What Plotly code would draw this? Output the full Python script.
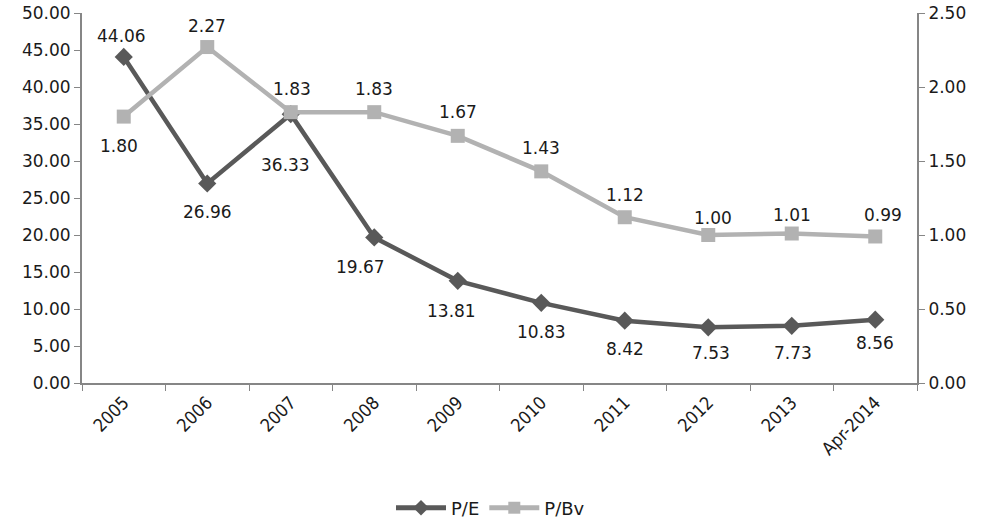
import plotly.graph_objects as go

years = ['2005', '2006', '2007', '2008', '2009', '2010', '2011', '2012', '2013', 'Apr-2014']
pe = [44.06, 26.96, 36.33, 19.67, 13.81, 10.83, 8.42, 7.53, 7.73, 8.56]
pbv = [1.80, 2.27, 1.83, 1.83, 1.67, 1.43, 1.12, 1.00, 1.01, 0.99]

# label nudges in pixels (dx, dy) - dy positive = down, as Excel placed them
pe_nudge = [(-2, -21), (0, 28), (-5, 51), (-14, 30), (-6, 30),
            (0, 29), (0, 28), (3, 26), (1, 27), (0, 23)]
pbv_nudge = [(-5, 29), (0, -21), (1, -23), (0, -23), (0, -24),
             (0, -23), (0, -22), (5, -17), (0, -19), (8, -21)]

font_name = 'DejaVu Sans'
narrow_font = 'DejaVu Sans Condensed, DejaVu Sans'
axis_grey = '#868686'
pe_color = '#595959'
pbv_color = '#b2b2b2'

fig = go.Figure()

fig.add_trace(go.Scatter(
    x=years, y=pe, name='P/E', mode='lines+markers',
    line=dict(color=pe_color, width=4.5),
    marker=dict(symbol='diamond', size=14, color=pe_color),
))

fig.add_trace(go.Scatter(
    x=years, y=pbv, name='P/Bv', mode='lines+markers', yaxis='y2',
    line=dict(color=pbv_color, width=4.5),
    marker=dict(symbol='square', size=14, color=pbv_color),
))

# data labels (x given as category index, year strings would be read as numbers)
for i, (v, (dx, dy)) in enumerate(zip(pe, pe_nudge)):
    fig.add_annotation(x=i, y=v, yref='y', text=f'{v:.2f}', showarrow=False,
                       xshift=dx, yshift=-dy, font=dict(size=17, color='#1a1a1a'))
for i, (v, (dx, dy)) in enumerate(zip(pbv, pbv_nudge)):
    fig.add_annotation(x=i, y=v, yref='y2', text=f'{v:.2f}', showarrow=False,
                       xshift=dx, yshift=-dy, font=dict(size=17, color='#1a1a1a'))

fig.update_layout(
    width=981, height=522,
    margin=dict(l=82, r=64, t=13, b=139, autoexpand=False),
    paper_bgcolor='white', plot_bgcolor='white',
    font=dict(family=font_name, size=17, color='#1a1a1a'),
    xaxis=dict(
        type='category', range=[-0.5, 9.5], tickangle=-45,
        showline=True, linecolor=axis_grey, linewidth=2,
        ticks='outside', tickson='boundaries', ticklen=6, tickcolor=axis_grey,
        showgrid=False, tickfont=dict(size=18, family=narrow_font),
    ),
    yaxis=dict(
        range=[0, 50], dtick=5, tickformat='.2f',
        showline=True, linecolor=axis_grey, linewidth=2,
        ticks='outside', ticklen=6, tickcolor=axis_grey,
        showgrid=False, zeroline=False,
    ),
    yaxis2=dict(
        range=[0, 2.5], dtick=0.5, tickformat='.2f', overlaying='y', side='right',
        showline=True, linecolor=axis_grey, linewidth=2,
        ticks='outside', ticklen=6, tickcolor=axis_grey,
        showgrid=False, zeroline=False,
    ),
    legend=dict(orientation='h', x=0.5, xanchor='center', xref='container',
                y=1 - 508 / 522, yanchor='middle', yref='container',
                itemwidth=50, itemsizing='constant',
                font=dict(size=18, family=font_name)),
    showlegend=True,
)

# drop the default 8px body margin so the figure sits at the page corner
fig.write_html('out.html', config={'displayModeBar': False},
               post_script="document.body.style.margin='0';")
